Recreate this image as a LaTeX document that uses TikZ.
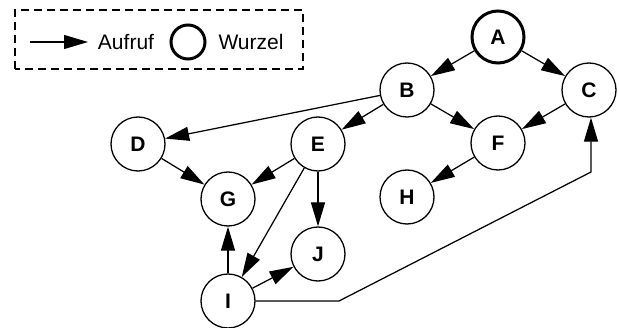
\documentclass[tikz,border=0pt]{standalone}
\usepackage{fontspec}
\setmainfont{Liberation Sans}
\usetikzlibrary{arrows.meta}
\begin{document}
\begin{tikzpicture}[x=1pt,y=1pt,
  vertex/.style={circle,draw,line width=1.3pt,minimum size=54pt,inner sep=0pt,font=\fontsize{21}{23}\selectfont\bfseries},
  rootvertex/.style={vertex,line width=3pt,minimum size=52pt},
  call/.style={line width=1.25pt,-{Triangle[length=24pt,width=14pt]}},
  legendbox/.style={draw,line width=1.2pt,dash pattern=on 8pt off 5pt},
  legendtext/.style={font=\fontsize{21}{23}\selectfont,inner sep=0pt}]
\useasboundingbox (0,0) rectangle (619,327);

% legend
\draw[legendbox] (15,258) rectangle (303,317);
\coordinate (la) at (30,285);
\coordinate (lb) at (88,285);
\draw[call] (la) -- (lb);
\node[legendtext] (lcall) at (126,285) {Aufruf};
\node[circle,draw,line width=3pt,minimum size=34pt,inner sep=0pt] (lroot) at (188,285) {};
\node[legendtext] (lrootlabel) at (251,285) {Wurzel};

% call graph
\node[rootvertex] (A) at (498,290) {A};
\node[vertex] (B) at (407,237) {B};
\node[vertex] (C) at (589,237) {C};
\node[vertex] (D) at (138,183) {D};
\node[vertex] (E) at (318,183) {E};
\node[vertex] (F) at (498,184) {F};
\node[vertex] (G) at (228,128) {G};
\node[vertex] (H) at (407,130) {H};
\node[vertex] (I) at (228,26) {I};
\node[vertex] (J) at (318,73) {J};

\draw[call] (A) -- (B);
\draw[call] (A) -- (C);
\draw[call] (B) -- (D);
\draw[call] (B) -- (E);
\draw[call] (B) -- (F);
\draw[call] (C) -- (F);
\draw[call] (F) -- (H);
\draw[call] (D) -- (G);
\draw[call] (E) -- (G);
\draw[call] (E) -- (J);
\draw[call] (E) -- (I);
\draw[call] (I) -- (G);
\draw[call] (I) -- (J);

\coordinate (k1) at (339,26);
\coordinate (k2) at (591,155);
\draw[call] (I.east) -- (k1) -- (k2) -- (C.south -| k2);
\end{tikzpicture}
\end{document}
